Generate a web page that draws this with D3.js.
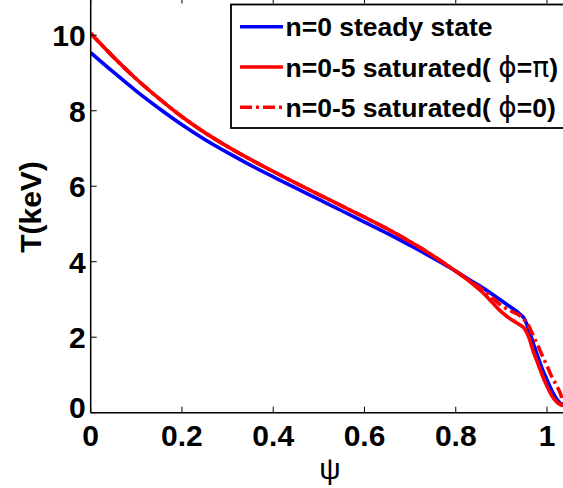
<!DOCTYPE html>
<html>
<head>
<meta charset="utf-8">
<script src="https://cdn.jsdelivr.net/npm/d3@7"></script>
<style>
  body { margin: 0; background: #fff; }
  text { font-family: "Liberation Sans", Arial, sans-serif; }
</style>
</head>
<body>
<script>
// psi grid shared by the three profiles
var psi = [0, 0.05, 0.1, 0.15, 0.2, 0.25, 0.3, 0.35, 0.4, 0.45, 0.5, 0.55, 0.6, 0.65, 0.7, 0.75, 0.8,
           0.83, 0.86, 0.88, 0.9, 0.92, 0.94, 0.95, 0.96, 0.97, 0.98, 0.99, 1.0, 1.01, 1.02, 1.03, 1.035];

var steady = [9.54, 9.02, 8.52, 8.06, 7.63, 7.24, 6.89, 6.56, 6.25, 5.95, 5.65, 5.35, 5.05, 4.75, 4.43, 4.10, 3.75,
              3.52, 3.30, 3.14, 2.97, 2.80, 2.62, 2.50, 2.20, 1.84, 1.48, 1.15, 0.87, 0.60, 0.38, 0.24, 0.20];

var satPi = [10.05, 9.42, 8.84, 8.32, 7.84, 7.42, 7.05, 6.71, 6.39, 6.08, 5.78, 5.48, 5.18, 4.87, 4.53, 4.16, 3.75,
             3.48, 3.17, 2.92, 2.67, 2.48, 2.33, 2.24, 2.00, 1.62, 1.30, 0.98, 0.70, 0.46, 0.30, 0.21, 0.19];

var sat0 = [10.05, 9.42, 8.84, 8.32, 7.84, 7.42, 7.05, 6.71, 6.39, 6.08, 5.78, 5.48, 5.18, 4.87, 4.53, 4.16, 3.75,
            3.50, 3.25, 3.05, 2.84, 2.70, 2.57, 2.46, 2.30, 2.03, 1.78, 1.50, 1.24, 0.96, 0.74, 0.48, 0.25];

var xTicks = [0, 0.2, 0.4, 0.6, 0.8, 1];
var yTicks = [0, 2, 4, 6, 8, 10];

var legendLabels = ["n=0 steady state", "n=0-5 saturated( ", "n=0-5 saturated( "];
var legendTails = [null, ["\u03D5", "=", "\u03C0", ")"], ["\u03D5", "=0)"]];

var w = 563,
    h = 488;

var margin = { top: -2.5, right: 0, bottom: 75.3, left: 90.7 },
    width = w - margin.left - margin.right,
    height = h - margin.top - margin.bottom;

var svg = d3.select("body")
    .append("svg")
    .attr("width", w)
    .attr("height", h);

var x = d3.scaleLinear().domain([0, 1.035]).range([margin.left, margin.left + width]);
var y = d3.scaleLinear().domain([0, 11]).range([h - margin.bottom, margin.top]);

var plot = svg.append("g");

plot.append("clipPath").attr("id", "clip")
    .append("rect")
    .attr("x", margin.left).attr("y", margin.top)
    .attr("width", width).attr("height", height);

var line = d3.line()
    .x(function (d) { return x(d[0]); })
    .y(function (d) { return y(d[1]); })
    .curve(d3.curveMonotoneX);

var series = [
    { vals: steady, color: "#0000ff", dash: null },
    { vals: satPi, color: "#ff0000", dash: null },
    { vals: sat0, color: "#ff0000", dash: "12,4,3,4" }
];

series.forEach(function (s) {
    plot.append("path")
        .datum(psi.map(function (p, i) { return [p, s.vals[i]]; }))
        .attr("clip-path", "url(#clip)")
        .attr("fill", "none")
        .attr("stroke", s.color)
        .attr("stroke-width", 3.6)
        .attr("stroke-dasharray", s.dash)
        .attr("d", line);
});

// axes box
var x0 = x(0), yb = y(0), yt = y(11);
svg.append("line").attr("x1", x0).attr("x2", w).attr("y1", yb).attr("y2", yb)
    .attr("stroke", "#000").attr("stroke-width", 1.5);
svg.append("line").attr("x1", x0).attr("x2", x0).attr("y1", yt).attr("y2", yb)
    .attr("stroke", "#000").attr("stroke-width", 1.5);

// ticks (inward, bottom/top and left)
xTicks.forEach(function (t) {
    svg.append("line").attr("x1", x(t)).attr("x2", x(t)).attr("y1", yb).attr("y2", yb - 6)
        .attr("stroke", "#000").attr("stroke-width", 1);
    svg.append("line").attr("x1", x(t)).attr("x2", x(t)).attr("y1", yt).attr("y2", yt + 6)
        .attr("stroke", "#000").attr("stroke-width", 1);
});
yTicks.forEach(function (t) {
    svg.append("line").attr("x1", x0).attr("x2", x0 + 6).attr("y1", y(t)).attr("y2", y(t))
        .attr("stroke", "#000").attr("stroke-width", 1);
});

svg.selectAll(".xlab")
    .data(xTicks)
    .enter()
    .append("text")
    .attr("x", function (d) { return x(d); })
    .attr("y", yb + 33.5)
    .attr("text-anchor", "middle")
    .attr("font-size", 30)
    .attr("font-weight", "bold")
    .text(function (d) { return d; });

svg.selectAll(".ylab")
    .data(yTicks)
    .enter()
    .append("text")
    .attr("x", x0 - 5)
    .attr("y", function (d) { return d === 0 ? y(d) + 5 : y(d) + 11; })
    .attr("text-anchor", "end")
    .attr("font-size", 30)
    .attr("font-weight", "bold")
    .text(function (d) { return d; });

svg.append("text")
    .attr("transform", "translate(41,207) rotate(-90)")
    .attr("text-anchor", "middle")
    .attr("font-size", 30)
    .attr("font-weight", "bold")
    .text("T(keV)");

svg.append("text")
    .attr("x", (x0 + w) / 2 + 3)
    .attr("y", 479)
    .attr("text-anchor", "middle")
    .attr("font-size", 30)
    .text("\u03C8");

// legend
var lg = svg.append("g");
lg.append("rect")
    .attr("x", 231).attr("y", 4.5)
    .attr("width", 340).attr("height", 123.5)
    .attr("fill", "#fff")
    .attr("stroke", "#000")
    .attr("stroke-width", 1.8);

series.forEach(function (s, i) {
    var ly = 26.7 + i * 40.3;
    lg.append("line")
        .attr("x1", 240).attr("x2", 283)
        .attr("y1", ly).attr("y2", ly)
        .attr("stroke", s.color)
        .attr("stroke-width", 3.6)
        .attr("stroke-dasharray", s.dash);
    var t = lg.append("text")
        .attr("x", 285.5)
        .attr("y", ly + 9.7)
        .attr("font-size", 26.5)
        .attr("font-weight", "bold");
    t.append("tspan").text(legendLabels[i]);
    if (legendTails[i]) {
        legendTails[i].forEach(function (part) {
            var greek = part === "\u03D5" || part === "\u03C0";
            t.append("tspan")
                .attr("font-weight", greek ? "normal" : "bold")
                .attr("font-family", greek ? "DejaVu Sans" : null)
                .attr("font-size", greek ? 28 : null)
                .text(part);
        });
    }
});
</script>
</body>
</html>
